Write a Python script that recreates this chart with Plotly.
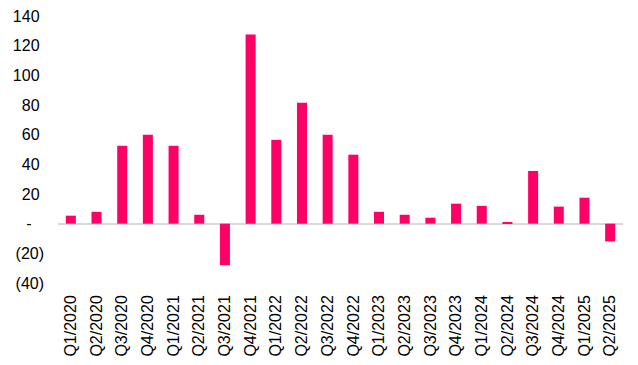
import plotly.graph_objects as go

quarters = ["Q1/2020", "Q2/2020", "Q3/2020", "Q4/2020", "Q1/2021", "Q2/2021", "Q3/2021", "Q4/2021",
            "Q1/2022", "Q2/2022", "Q3/2022", "Q4/2022", "Q1/2023", "Q2/2023", "Q3/2023", "Q4/2023",
            "Q1/2024", "Q2/2024", "Q3/2024", "Q4/2024", "Q1/2025", "Q2/2025"]
values = [5.4, 8, 52.5, 60, 52.5, 6, -28, 127.5, 56.5, 81.5, 60, 46.5, 8, 6, 4, 13.5, 12, 0.7, 35.5, 11.5, 17.5, -12]

tick_vals = [140, 120, 100, 80, 60, 40, 20, 0, -20, -40]
tick_text = ["140\u00a0", "120\u00a0", "100\u00a0", "80\u00a0", "60\u00a0", "40\u00a0", "20\u00a0",
             "-\u2002\u00a0", "(20)", "(40)"]

fig = go.Figure(go.Bar(x=quarters, y=values, marker_color="#FF0066", marker_line_width=0))

# page body has an 8px default margin, so the figure is sized/offset to compensate
fig.update_layout(
    width=630, height=357,
    margin=dict(l=50, r=15, t=8, b=82),
    paper_bgcolor="white", plot_bgcolor="white",
    bargap=0.61,
    showlegend=False,
    font=dict(family="Liberation Sans, Arial, sans-serif", size=16, color="#000000"),
)
fig.update_xaxes(tickangle=-90, showgrid=False, showline=False, zeroline=False, automargin=False,
                 ticks="", ticklabelstandoff=8, tickfont=dict(size=16), ticklabeloverflow="allow")
fig.update_yaxes(range=[-40, 140], tickvals=tick_vals, ticktext=tick_text, showgrid=False,
                 automargin=False, ticklabeloverflow="allow",
                 zeroline=True, zerolinecolor="#D9D9D9", zerolinewidth=1.5,
                 showline=False, ticks="", ticklabelstandoff=13, tickfont=dict(size=16))

fig.write_html("out.html")
